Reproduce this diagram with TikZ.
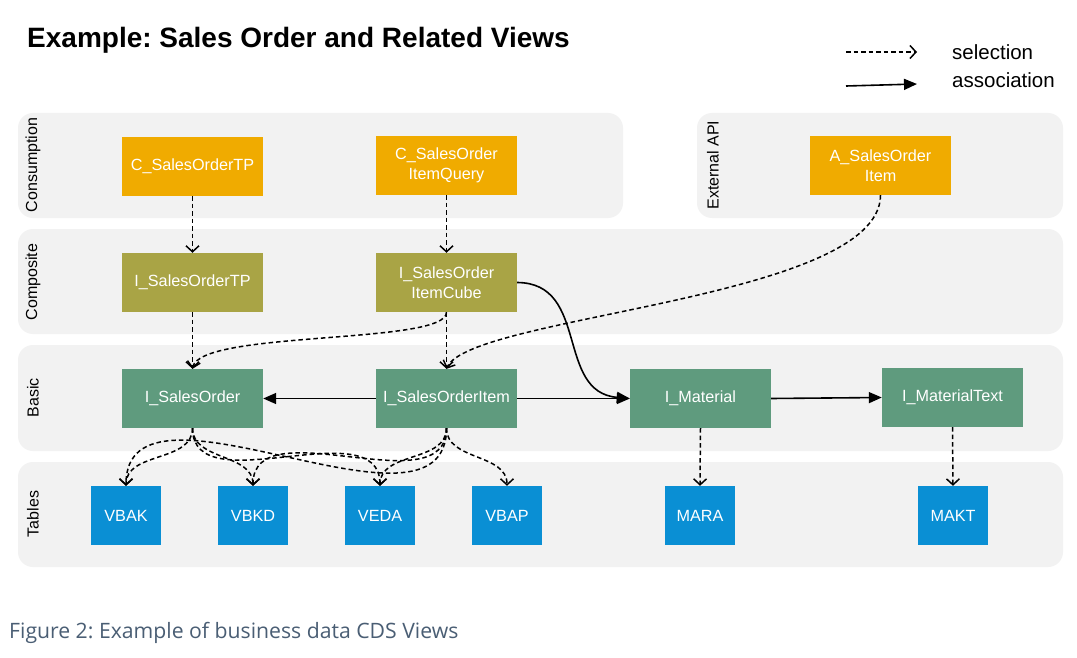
\documentclass[tikz,border=0pt]{standalone}
\usepackage{fontspec}
\setmainfont{Liberation Sans}
\newfontfamily\capfont{Open Sans}
\usetikzlibrary{arrows.meta}
\frenchspacing
\definecolor{laneg}{HTML}{F2F2F2}
\definecolor{cons}{HTML}{F0AB00}
\definecolor{comp}{HTML}{A9A445}
\definecolor{basicc}{HTML}{5F9B7E}
\definecolor{tabc}{HTML}{0A8FD4}
\definecolor{capc}{HTML}{4A5E74}
\tikzset{
  lane/.style={fill=laneg, draw=none, rounded corners=15pt},
  lanelabel/.style={rotate=90, font=\fontsize{16}{19}\selectfont, text=black, inner sep=0pt},
  vbox/.style={minimum width=141pt, minimum height=59pt, inner sep=0pt, text=white, align=center, font=\fontsize{16.2}{20}\selectfont},
  tbox/.style={minimum width=70pt, minimum height=59pt, inner sep=0pt, text=white, fill=tabc, font=\fontsize{16.2}{20}\selectfont},
  sel/.style={line width=1.5pt, dash pattern=on 4.5pt off 3pt, -{Straight Barb[length=6pt,width=13pt,line width=1.5pt]}},
  assoc/.style={line width=1.6pt, -{Triangle[length=13pt,width=11pt]}},
  legtext/.style={anchor=west, inner sep=0pt, font=\fontsize{20.5}{24}\selectfont},
}
\begin{document}
\begin{tikzpicture}[x=1pt,y=-1pt]
\path[fill=white,use as bounding box] (0,0) rectangle (1077,658);
% lanes
\path[lane] (18,113) rectangle (623,218);
\path[lane] (697,113) rectangle (1063,218);
\path[lane] (18,229) rectangle (1063,334);
\path[lane] (18,345) rectangle (1063,451);
\path[lane] (18,462) rectangle (1063,567);
\node[lanelabel] (lcons) at (33,165) {Consumption};
\node[lanelabel] (lext) at (713,165) {External API};
\node[lanelabel] (lcomp) at (33,282) {Composite};
\node[lanelabel] (lbas) at (33,398) {Basic};
\node[lanelabel] (ltab) at (33,514) {Tables};
% title
\node[anchor=west, inner sep=0pt, font=\fontsize{28}{31}\selectfont\bfseries] (title) at (27,40) {Example: Sales Order and Related Views};
% legend
\coordinate (l1a) at (846,52);
\coordinate (l1b) at (917,52);
\coordinate (l2a) at (846,86);
\coordinate (l2b) at (917,84);
\draw[sel] (l1a) -- (l1b);
\draw[assoc] (l2a) -- (l2b);
\node[legtext] (tsel) at (952,52) {selection};
\node[legtext] (tass) at (952,80) {association};
% boxes
\node[vbox, fill=cons] (ctp) at (192.5,166.5) {C\_SalesOrderTP};
\node[vbox, fill=cons] (cq) at (446.5,165.5) {C\_SalesOrder\\ItemQuery};
\node[vbox, fill=cons] (api) at (880.5,165.5) {A\_SalesOrder\\Item};
\node[vbox, fill=comp] (itp) at (192.5,282.5) {I\_SalesOrderTP};
\node[vbox, fill=comp] (cube) at (446.5,282.5) {I\_SalesOrder\\ItemCube};
\node[vbox, fill=basicc] (so) at (192.5,398.5) {I\_SalesOrder};
\node[vbox, fill=basicc] (soi) at (446.5,398.5) {I\_SalesOrderItem};
\node[vbox, fill=basicc] (mat) at (700.5,398.5) {I\_Material};
\node[vbox, fill=basicc] (matt) at (952.5,397.5) {I\_MaterialText};
\node[tbox] (vbak) at (126,515.5) {VBAK};
\node[tbox] (vbkd) at (253,515.5) {VBKD};
\node[tbox] (veda) at (380,515.5) {VEDA};
\node[tbox] (vbap) at (507,515.5) {VBAP};
\node[tbox] (mara) at (700,515.5) {MARA};
\node[tbox] (makt) at (953,515.5) {MAKT};
% caption
\node[anchor=west, inner sep=0pt, text=capc, font=\capfont\fontsize{21.2}{25}\selectfont] (cap) at (9,633) {Figure 2: Example of business data CDS Views};
% selections
\draw[sel] (ctp.south) -- (itp.north);
\draw[sel] (cq.south) -- (cube.north);
\draw[sel] (itp.south) -- (so.north);
\draw[sel] (cube.south) -- (soi.north);
\draw[sel] (cube.south) .. controls (447,345) and (200,330) .. (so.north);
\draw[sel] (api.south) .. controls (880,300) and (470,315) .. (soi.north);
\draw[sel] (mat.south) -- (mara.north);
\draw[sel] (matt.south) -- (makt.north);
\draw[sel] (so.south) to[out=-90,in=90] (vbak.north);
\draw[sel] (so.south) to[out=-90,in=90] (vbkd.north);
\draw[sel] (so.south) to[out=-90,in=90] (veda.north);
\draw[sel] (soi.south) to[out=-90,in=90] (vbak.north);
\draw[sel] (soi.south) to[out=-90,in=90] (vbkd.north);
\draw[sel] (soi.south) to[out=-90,in=90] (veda.north);
\draw[sel] (soi.south) to[out=-90,in=90] (vbap.north);
% associations
\draw[assoc] (soi.west) -- (so.east);
\draw[assoc] (soi.east) -- (mat.west);
\draw[assoc] (mat.east) -- (matt.west);
\draw[assoc] (cube.east) .. controls (590,283) and (555,392) .. (mat.west);
\end{tikzpicture}
\end{document}
